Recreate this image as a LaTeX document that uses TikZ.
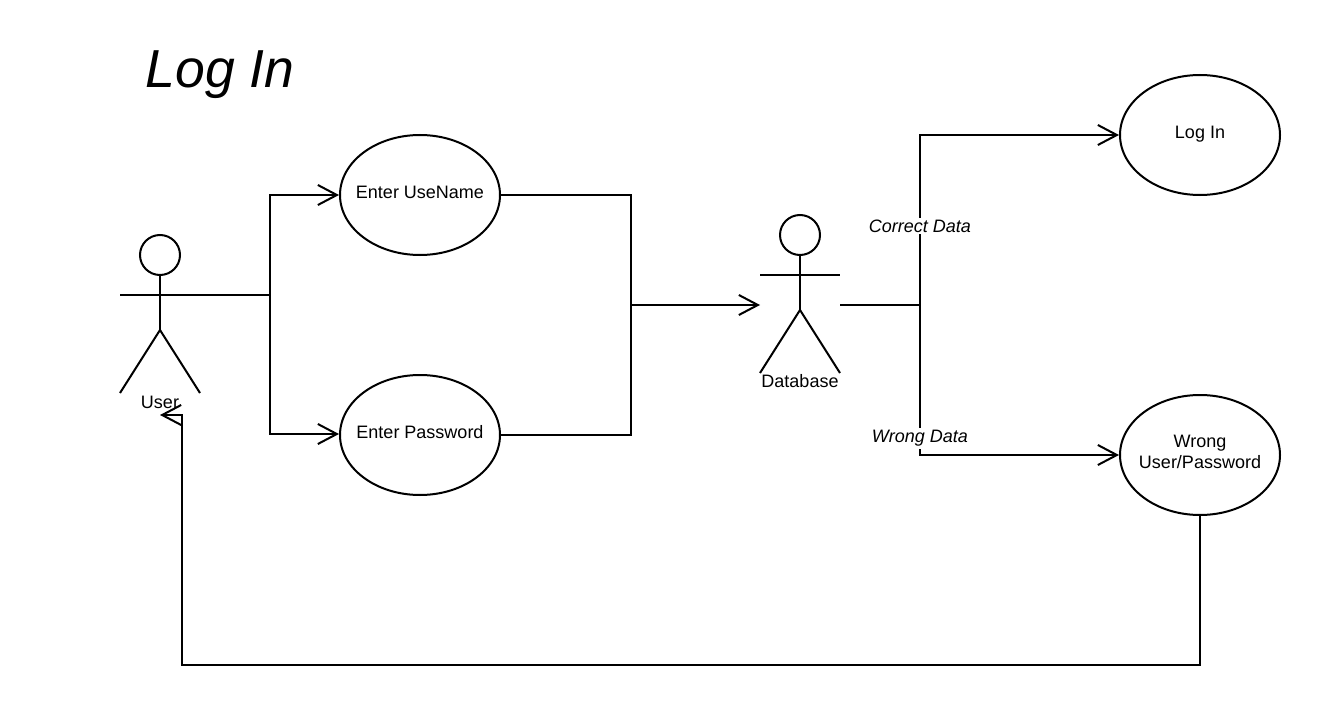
\documentclass[tikz,border=0pt]{standalone}
\usepackage{fontspec}
\setmainfont{Liberation Sans}
\usetikzlibrary{arrows.meta,shapes.geometric}
\tikzset{
  base/.style={line width=2pt,black},
  usecase/.style={base,draw,ellipse,minimum width=160pt,minimum height=120pt,inner sep=0pt,outer sep=0pt,font=\fontsize{18}{21}\selectfont},
  conn/.style={base,draw,line join=miter},
  flow/.style={conn,-{Straight Barb[length=19pt,width=20pt,line width=2pt]}},
  lbl/.style={font=\fontsize{18}{21}\selectfont,inner sep=0pt},
  edgelbl/.style={font=\fontsize{18}{21}\selectfont\itshape,fill=white,inner sep=2pt},
  actorhead/.style={base,draw,circle,minimum size=40pt,inner sep=0pt,outer sep=0pt}
}
\newcommand{\uctext}[2][3.5]{\smash{\makebox[0pt]{\raisebox{-#1pt}{\parbox[t]{150pt}{\centering #2}}}}}
\newcommand{\stickman}[3]{% name, x, top y
  \node[actorhead] (#1head) at (#2,#3+20) {};
  \coordinate (#1left) at (#2-40,#3+59.5);
  \coordinate (#1right) at (#2+40,#3+59.5);
  \coordinate (#1hip) at (#2,#3+95);
  \coordinate (#1lfoot) at (#2-40,#3+158);
  \coordinate (#1rfoot) at (#2+40,#3+158);
  \draw[conn] (#1head.south) -- (#1hip);
  \draw[conn] (#1left) -- (#1right);
  \draw[conn] (#1lfoot) -- (#1hip) -- (#1rfoot);
}
\begin{document}
\begin{tikzpicture}[x=1pt,y=-1pt]
\useasboundingbox (0,0) rectangle (1320,706);
\node[inner sep=0pt,font=\fontsize{53.5}{60}\selectfont\itshape] (title) at (220,75) {Log In};
\stickman{user}{160}{235}
\stickman{db}{800}{215}
\node[lbl] (userlabel) at (160,402) {User};
\node[lbl] (dblabel) at (800,381.5) {Database};
\node[usecase] (name) at (420,195) {\uctext{Enter UseName}};
\node[usecase] (pass) at (420,435) {\uctext{Enter Password}};
\node[usecase] (login) at (1200,135) {\uctext{Log In}};
\node[usecase] (wrong) at (1200,455) {\uctext[-7.5]{Wrong\\User/Password}};
\coordinate (userout) at (200,295);
\coordinate (ubus) at (270,295);
\coordinate (dbin) at (760,305);
\coordinate (merge) at (631,305);
\coordinate (dbout) at (840,305);
\coordinate (split) at (920,305);
\coordinate (userback) at (160,415);
\draw[flow] (userout) -- (ubus) |- (339,195);
\draw[flow] (ubus) |- (339,434);
\draw[conn] (name.east) -| (merge);
\draw[conn] (pass.east) -| (merge);
\draw[flow] (merge) -- (dbin);
\draw[conn] (dbout) -- (split);
\draw[flow] (split) |- (1119,135);
\draw[flow] (split) |- (1119,455);
\draw[flow] (wrong.south) -- (1200,665) -- (182,665) -- (182,415) -- (userback);
\node[edgelbl] (correct) at (920,226) {Correct Data};
\node[edgelbl] (wrongdata) at (920,438.5) {Wrong Data};
\end{tikzpicture}
\end{document}
